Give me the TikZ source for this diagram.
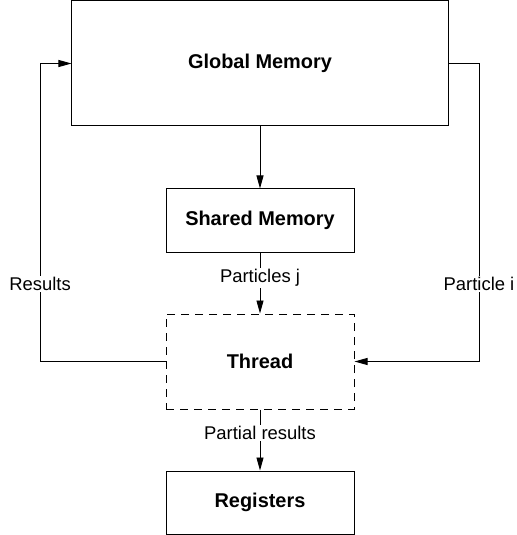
\documentclass[tikz,border=0pt]{standalone}
\usepackage{fontspec}
\setmainfont{Liberation Sans}
\usetikzlibrary{arrows.meta}
\begin{document}
\begin{tikzpicture}[x=1bp,y=-1bp,
  box/.style={draw, line width=1bp, inner sep=0pt, minimum width=188bp, minimum height=63bp, font=\fontsize{20}{24}\selectfont\bfseries},
  dashbox/.style={box, dash pattern=on 8bp off 6bp},
  conn/.style={line width=0.9bp},
  arr/.style={conn, -{Triangle[length=13bp,width=7bp]}},
  lbl/.style={fill=white, inner sep=1.5bp, font=\fontsize{18.5}{22}\selectfont}]
\useasboundingbox (0,0) rectangle (517,535);
\node[box, minimum width=376bp, minimum height=125bp] (global) at (260,63.5) {Global Memory};
\node[box] (shared) at (260,220.5) {Shared Memory};
\node[dashbox, minimum height=95bp] (thread) at (260,361.5) {Thread};
\node[box] (registers) at (260,502.5) {Registers};
\coordinate (lb) at (40,361.5);
\coordinate (lt) at (40,63.5);
\coordinate (rt) at (479,63.5);
\coordinate (rb) at (479,361.5);
\draw[arr] (global) -- (shared);
\draw[arr] (shared) -- node[lbl, yshift=5bp] {Particles j} (thread);
\draw[arr] (thread) -- node[lbl, yshift=7bp] {Partial results} (registers);
\draw[arr] (thread.west) -- (lb) -- node[lbl, pos=0.26] {Results} (lt) -- (global.west);
\draw[arr] (global.east) -- (rt) -- node[lbl, pos=0.74] {Particle i} (rb) -- (thread.east);
\end{tikzpicture}
\end{document}
